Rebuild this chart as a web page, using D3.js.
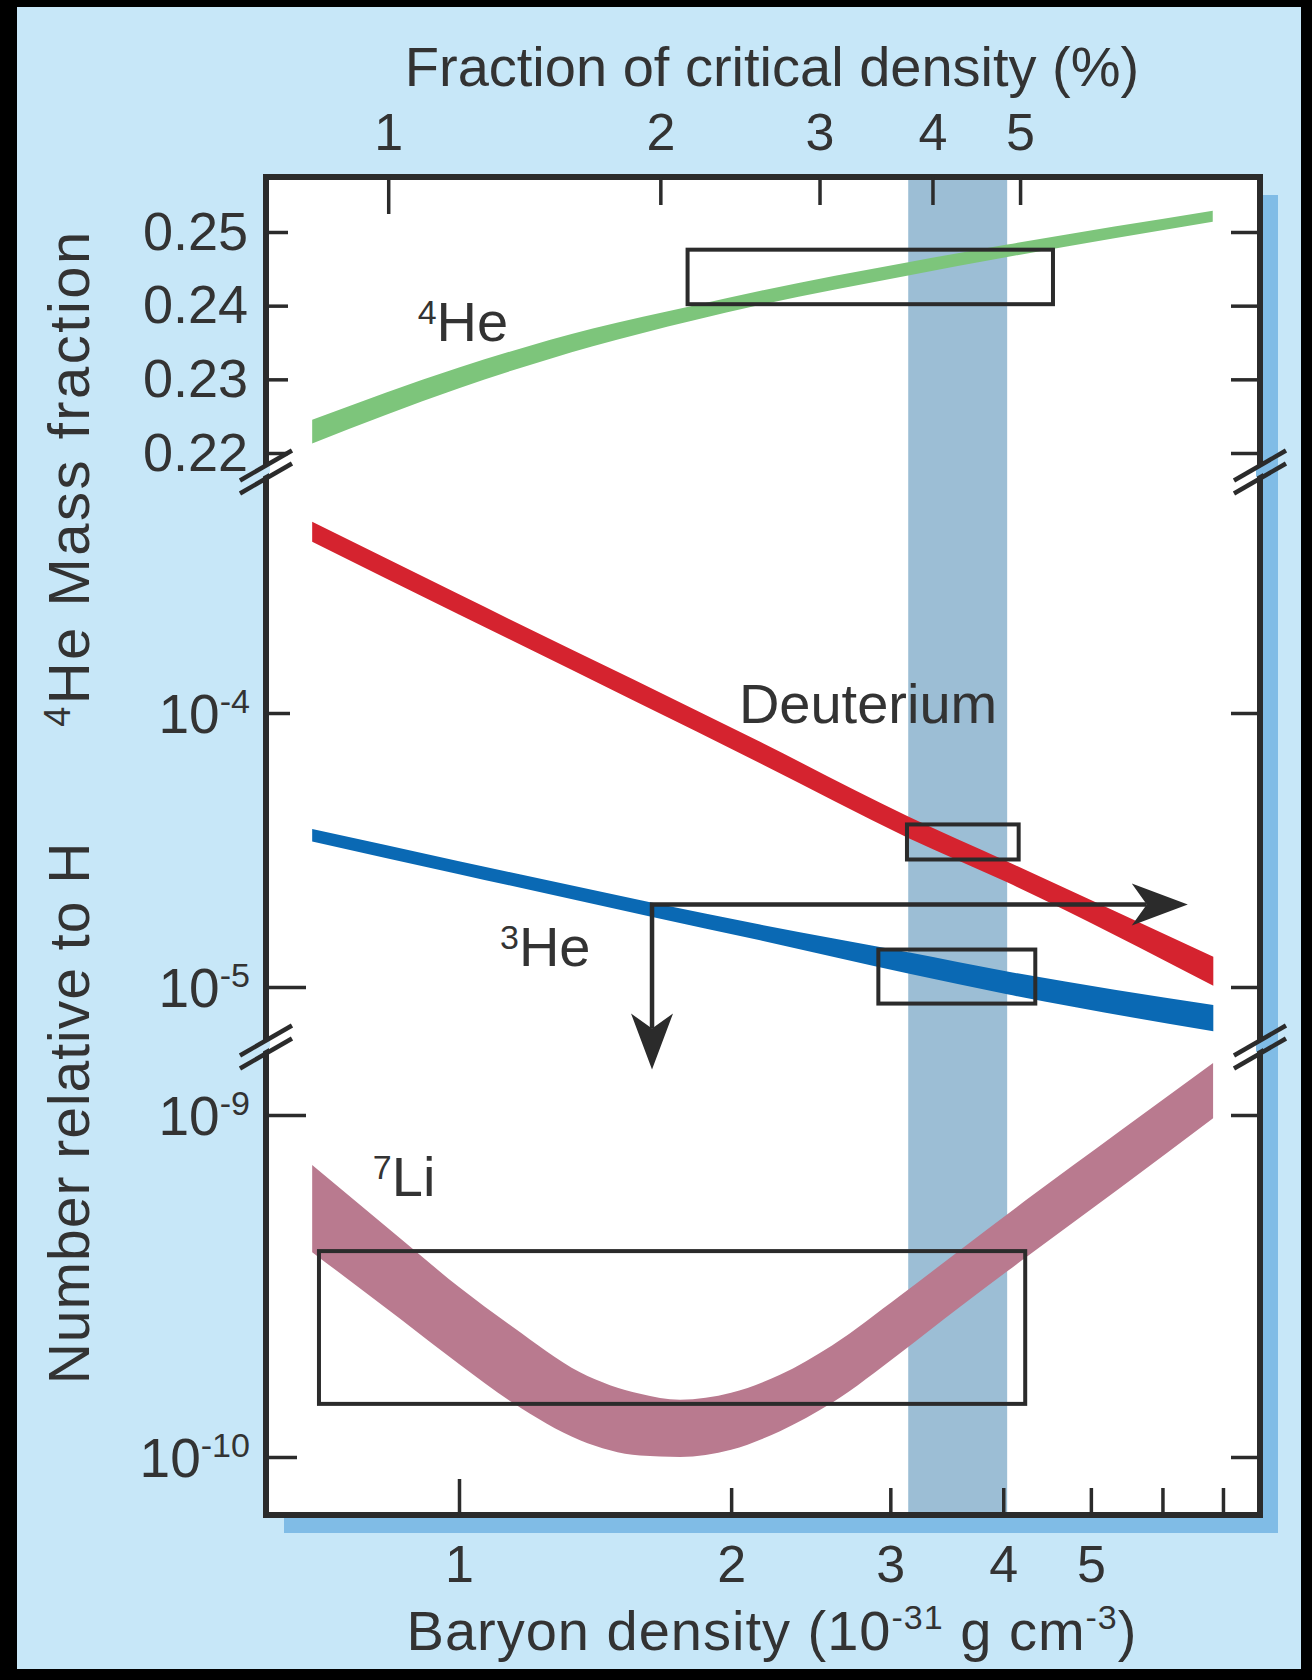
<!DOCTYPE html>
<html>
<head>
<meta charset="utf-8">
<script src="https://cdnjs.cloudflare.com/ajax/libs/d3/7.8.5/d3.min.js"></script>
<style>
  body { margin: 0; background: #000; }
  svg text { font-family: "Liberation Sans", Arial, Helvetica, sans-serif; }
</style>
</head>
<body>
<div id="chart"></div>
<script>
// Big-bang nucleosynthesis abundances vs baryon density (10^-31 g cm^-3)

// 4He mass fraction band
var heRho = [0.688, 1.0, 1.406, 1.815, 2.15, 3.14, 4.04, 6.82];
var heHi  = [0.2245, 0.2316, 0.2369, 0.2400, 0.2420, 0.2459, 0.2483, 0.2529];
var heLo  = [0.2213, 0.2288, 0.2345, 0.2380, 0.2401, 0.2441, 0.2466, 0.2514];

// Deuterium / H
var dRho = [0.688, 1.0, 2.153, 3.14, 4.04, 6.83];
var dHi  = [4.99e-4, 2.71e-4, 7.85e-5, 4.19e-5, 2.87e-5, 1.29e-5];
var dLo  = [4.22e-4, 2.29e-4, 6.55e-5, 3.50e-5, 2.41e-5, 1.01e-5];

// 3He / H
var h3Rho = [0.688, 1.0, 1.627, 2.153, 3.14, 4.04, 6.83];
var h3Hi  = [3.77e-5, 2.88e-5, 2.04e-5, 1.69e-5, 1.34e-5, 1.14e-5, 8.6e-6];
var h3Lo  = [3.40e-5, 2.58e-5, 1.81e-5, 1.48e-5, 1.12e-5, 9.4e-6, 6.9e-6];

// 7Li / H
var liRho = [0.688, 0.860, 1.0, 1.147, 1.361, 1.586, 1.756, 2.0, 2.265, 2.586, 3.075, 3.584, 4.228, 5.385, 6.826];
var liHi  = [7.14e-10, 4.37e-10, 3.14e-10, 2.40e-10, 1.77e-10, 1.53e-10, 1.47e-10, 1.54e-10, 1.74e-10, 2.12e-10, 2.96e-10, 4.03e-10, 5.61e-10, 8.98e-10, 1.42e-9];
var liLo  = [3.97e-10, 2.54e-10, 1.87e-10, 1.44e-10, 1.12e-10, 1.01e-10, 1.00e-10, 1.05e-10, 1.19e-10, 1.44e-10, 2.01e-10, 2.75e-10, 3.82e-10, 6.12e-10, 9.79e-10];

// observed ranges (boxes) and the concordance band
var obsBoxes = [
  {panel: "he",  x0: 1.79, x1: 4.54, y0: 0.2402,  y1: 0.2476},
  {panel: "mid", x0: 3.13, x1: 4.16, y0: 2.92e-5, y1: 3.92e-5},
  {panel: "mid", x0: 2.91, x1: 4.34, y0: 8.7e-6,  y1: 1.37e-5},
  {panel: "low", x0: 0.70, x1: 4.23, y0: 1.43e-10, y1: 4.0e-10}
];
var bandRho = [3.14, 4.04];

// 3He limit arrows: corner, right end, bottom end
var arrowCorner = {rho: 1.635, val: 2.0e-5};
var arrowRight = 6.4;
var arrowDown = 5.0e-6;

// ticks
var bottomTicks = [1, 2, 3, 4, 5, 6, 7];
var bottomLabels = [1, 2, 3, 4, 5];
var topTicks = [1, 2, 3, 4, 5];     // percent of critical density
var rhoPerPercent = 0.835;          // baryon density at 1% of critical
var heTicks = [0.22, 0.23, 0.24, 0.25];
var midTicks = [1e-5, 1e-4];
var lowTicks = [1e-10, 1e-9];

// curve labels
var curveLabels = [
  {sup: "4", text: "He", panel: "he", rho: 0.90, val: 0.2352},
  {sup: "",  text: "Deuterium", panel: "mid", rho: 2.04, val: 9.2e-5},
  {sup: "3", text: "He", panel: "mid", rho: 1.11, val: 1.19e-5},
  {sup: "7", text: "Li", panel: "low", rho: 0.803, val: 5.8e-10}
];

var W = 1312, H = 1680;
var frame = {left: 266, right: 1260, top: 177, bottom: 1515};
var breaks = [472, 1047];
var ink = "#2b2b2b", bgBlue = "#c7e7f8", shadowBlue = "#80bce6", bandBlue = "#9cbed5";
var fontFam = '"Liberation Sans", Arial, Helvetica, sans-serif';

var x = d3.scaleLog().domain([1, 10]).range([459, 1363]);
var yHe = d3.scaleLinear().domain([0.22, 0.25]).range([453, 232]);
var yMid = d3.scaleLog().domain([1e-5, 1e-4]).range([987, 713]);
var yLow = d3.scaleLog().domain([1e-10, 1e-9]).range([1457, 1115]);
var yOf = {he: yHe, mid: yMid, low: yLow};

var svg = d3.select("#chart").append("svg")
  .attr("width", W)
  .attr("height", H);

svg.append("rect").attr("width", W).attr("height", H).attr("fill", "#000");
svg.append("rect").attr("x", 17).attr("y", 7).attr("width", 1284).attr("height", 1662).attr("fill", bgBlue);

// drop shadow + white plot area
svg.append("rect")
  .attr("x", frame.left + 18).attr("y", frame.top + 18)
  .attr("width", frame.right - frame.left).attr("height", frame.bottom - frame.top)
  .attr("fill", shadowBlue);
svg.append("rect")
  .attr("x", frame.left).attr("y", frame.top)
  .attr("width", frame.right - frame.left).attr("height", frame.bottom - frame.top)
  .attr("fill", "#fff");

svg.append("clipPath").attr("id", "plotClip")
  .append("rect")
  .attr("x", frame.left).attr("y", frame.top)
  .attr("width", frame.right - frame.left).attr("height", frame.bottom - frame.top);

var plot = svg.append("g").attr("clip-path", "url(#plotClip)");

// concordance band
plot.append("rect")
  .attr("x", x(bandRho[0]))
  .attr("width", x(bandRho[1]) - x(bandRho[0]))
  .attr("y", frame.top)
  .attr("height", frame.bottom - frame.top)
  .attr("fill", bandBlue);

function bandPath(rho, lo, hi, yScale) {
  return d3.area()
    .x(function(d, i) { return x(rho[i]); })
    .y0(function(d, i) { return yScale(lo[i]); })
    .y1(function(d, i) { return yScale(hi[i]); })
    .curve(d3.curveMonotoneX)(rho);
}

plot.append("path").attr("d", bandPath(heRho, heLo, heHi, yHe)).attr("fill", "#7dc57b");
plot.append("path").attr("d", bandPath(dRho, dLo, dHi, yMid)).attr("fill", "#d5232f");
plot.append("path").attr("d", bandPath(h3Rho, h3Lo, h3Hi, yMid)).attr("fill", "#0a69b4");
plot.append("path").attr("d", bandPath(liRho, liLo, liHi, yLow)).attr("fill", "#b97a8f");

// observation boxes
plot.selectAll(".obs")
  .data(obsBoxes)
  .enter()
  .append("rect")
    .attr("class", "obs")
    .attr("x", function(d) { return x(d.x0); })
    .attr("width", function(d) { return x(d.x1) - x(d.x0); })
    .attr("y", function(d) { return yOf[d.panel](d.y1); })
    .attr("height", function(d) { return yOf[d.panel](d.y0) - yOf[d.panel](d.y1); })
    .style("fill", "none")
    .style("stroke", ink)
    .style("stroke-width", 4);

// 3He upper-limit arrows
var cx = x(arrowCorner.rho), cy = yMid(arrowCorner.val);
var headLen = 56, headHalf = 21, notch = 15;
var rx = x(arrowRight), dy = yMid(arrowDown);
plot.append("path")
  .attr("d", "M" + (rx - headLen + notch) + "," + cy + "H" + cx + "V" + (dy - headLen + notch))
  .style("fill", "none").style("stroke", ink).style("stroke-width", 4.5);
plot.append("path")
  .attr("d", "M" + rx + "," + cy + "L" + (rx - headLen) + "," + (cy - headHalf) +
             "L" + (rx - headLen + notch) + "," + cy + "L" + (rx - headLen) + "," + (cy + headHalf) + "Z")
  .style("fill", ink);
plot.append("path")
  .attr("d", "M" + cx + "," + dy + "L" + (cx - headHalf) + "," + (dy - headLen) +
             "L" + cx + "," + (dy - headLen + notch) + "L" + (cx + headHalf) + "," + (dy - headLen) + "Z")
  .style("fill", ink);

// curve labels
curveLabels.forEach(function(l) {
  var t = plot.append("text")
    .attr("x", x(l.rho))
    .attr("y", yOf[l.panel](l.val))
    .attr("font-size", 56)
    .style("fill", "#333");
  if (l.sup) {
    t.append("tspan").attr("font-size", 34).attr("dy", -17).text(l.sup);
    t.append("tspan").attr("dy", 17).text(l.text);
  } else {
    t.text(l.text);
  }
});

// frame
svg.append("rect")
  .attr("x", frame.left).attr("y", frame.top)
  .attr("width", frame.right - frame.left).attr("height", frame.bottom - frame.top)
  .style("fill", "none").style("stroke", ink).style("stroke-width", 6);

function styleAxis(g, size) {
  g.attr("font-size", size).attr("font-family", fontFam).attr("color", ink);
  g.select(".domain").remove();
  g.selectAll(".tick line").attr("stroke-width", 3.5);
  g.selectAll(".tick text").style("fill", "#333");
}

// bottom axis: baryon density
var gBottom = svg.append("g")
  .attr("transform", "translate(0," + frame.bottom + ")")
  .call(d3.axisBottom(x).tickValues(bottomTicks).tickSizeInner(-27).tickSizeOuter(0).tickPadding(30)
    .tickFormat(function(d) { return bottomLabels.indexOf(d) >= 0 ? d : ""; }));
styleAxis(gBottom, 52);
gBottom.selectAll(".tick line").attr("y2", function(d) { return d === 1 ? -36 : -27; });

// top axis: fraction of critical density
var xTop = d3.scaleLog().domain([1, 10]).range([x(rhoPerPercent), x(rhoPerPercent * 10)]);
var gTop = svg.append("g")
  .attr("transform", "translate(0," + frame.top + ")")
  .call(d3.axisTop(xTop).tickValues(topTicks).tickSizeInner(-28).tickSizeOuter(0).tickPadding(27)
    .tickFormat(d3.format("d")));
styleAxis(gTop, 52);
gTop.selectAll(".tick line").attr("y2", function(d) { return d === 1 ? 37 : 28; });

// left/right axes for the three panels
function supLabel(sel, size) {
  sel.selectAll(".tick text").each(function(d) {
    var t = d3.select(this).text("");
    t.append("tspan").text("10");
    t.append("tspan").attr("font-size", size * 0.62).attr("dy", -20).text(Math.round(Math.log10(d)));
  });
}

function tickLen(d) {
  if (d > 5e-5) return 24;
  if (d > 5e-9) return 40;
  if (d > 5e-10) return 40;
  return 31;
}

var gHeL = svg.append("g").attr("transform", "translate(" + frame.left + ",0)")
  .call(d3.axisLeft(yHe).tickValues(heTicks).tickSizeInner(-22).tickSizeOuter(0).tickPadding(18).tickFormat(d3.format(".2f")));
styleAxis(gHeL, 54);

var gMidL = svg.append("g").attr("transform", "translate(" + frame.left + ",0)")
  .call(d3.axisLeft(yMid).tickValues(midTicks).tickSizeInner(-24).tickSizeOuter(0).tickPadding(16));
styleAxis(gMidL, 55);
supLabel(gMidL, 55);

var gLowL = svg.append("g").attr("transform", "translate(" + frame.left + ",0)")
  .call(d3.axisLeft(yLow).tickValues(lowTicks).tickSizeInner(-24).tickSizeOuter(0).tickPadding(16));
styleAxis(gLowL, 55);
supLabel(gLowL, 55);

[gMidL, gLowL].forEach(function(g) {
  g.selectAll(".tick line").attr("x2", function(d) { return tickLen(d); });
  g.selectAll(".tick text").attr("dy", "0.36em");
});

[[yHe, heTicks], [yMid, midTicks], [yLow, lowTicks]].forEach(function(p) {
  var g = svg.append("g").attr("transform", "translate(" + frame.right + ",0)")
    .call(d3.axisRight(p[0]).tickValues(p[1]).tickSizeInner(-29).tickSizeOuter(0).tickFormat(""));
  styleAxis(g, 10);
});

// axis breaks
[frame.left, frame.right].forEach(function(xf) {
  breaks.forEach(function(yb) {
    svg.append("path")
      .attr("d", "M" + (xf - 4) + "," + (yb + 5) + "L" + (xf + 4) + "," + (yb + 0.5) +
                 "L" + (xf + 4) + "," + (yb - 9) + "L" + (xf - 4) + "," + (yb - 4.5) + "Z")
      .style("fill", xf === frame.left ? bgBlue : shadowBlue);
    [-6.5, 6.5].forEach(function(off) {
      svg.append("line")
        .attr("x1", xf - 26).attr("y1", yb + 15 + off)
        .attr("x2", xf + 26).attr("y2", yb - 15 + off)
        .style("stroke", ink).style("stroke-width", 4.5);
    });
  });
});

// titles
svg.append("text")
  .attr("x", 772).attr("y", 86)
  .attr("text-anchor", "middle").attr("font-size", 56).style("fill", "#333")
  .text("Fraction of critical density (%)");

var bt = svg.append("text")
  .attr("x", 772).attr("y", 1650)
  .attr("text-anchor", "middle").attr("font-size", 56).attr("letter-spacing", 1).style("fill", "#333");
bt.append("tspan").text("Baryon density (10");
bt.append("tspan").attr("font-size", 34).attr("dy", -21).text("-31");
bt.append("tspan").attr("dy", 21).text(" g cm");
bt.append("tspan").attr("font-size", 34).attr("dy", -21).text("-3");
bt.append("tspan").attr("dy", 21).text(")");

var yt1 = svg.append("text")
  .attr("transform", "translate(89,478) rotate(-90)")
  .attr("text-anchor", "middle").attr("font-size", 58).attr("letter-spacing", 2.5).style("fill", "#333");
yt1.append("tspan").attr("font-size", 36).attr("dy", -19).text("4");
yt1.append("tspan").attr("dy", 19).text("He Mass fraction");

svg.append("text")
  .attr("transform", "translate(89,1113) rotate(-90)")
  .attr("text-anchor", "middle").attr("font-size", 57).attr("letter-spacing", 1).style("fill", "#333")
  .text("Number relative to H");
</script>
</body>
</html>
